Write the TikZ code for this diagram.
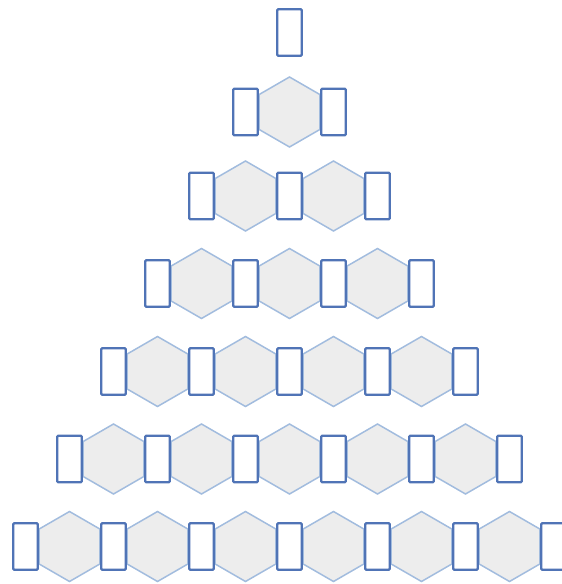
\documentclass[tikz,border=0pt]{standalone}
\usepackage{xcolor}
\usepackage{tikz}
\usetikzlibrary{shapes.geometric}
\definecolor{slotBlue}{RGB}{80,116,182}
\definecolor{hexEdge}{RGB}{162,188,222}
\definecolor{hexFill}{RGB}{237,237,237}

\begin{document}
\begin{tikzpicture}[x=1pt,y=-1pt,
    slotbox/.style={draw=slotBlue, fill=white, line width=2.4pt, rounded corners=1pt,
        minimum width=24.5pt, minimum height=46.5pt, inner sep=0pt},
    hexcell/.style={regular polygon, regular polygon sides=6, shape border rotate=30,
        draw=hexEdge, fill=hexFill, line width=1.5pt, minimum size=70pt, inner sep=0pt}]
    % frame of the picture
    \useasboundingbox (0,0) rectangle (562,584);

    % centre line and spacing
    \pgfmathsetmacro{\cx}{289.5}
    \pgfmathsetmacro{\dx}{88}

    % rows: index / centre height
    \foreach \row/\ry in {0/32.5,1/112,2/196,3/283.5,4/371.5,5/459,6/546.5} {
        % hexagons between the slots
        \ifnum\row>0
            \foreach \k in {1,...,\row} {
                \node[hexcell] (h-\row-\k) at ({\cx+(\k-0.5-\row/2)*\dx},\ry) {};
            }
        \fi
        % slots
        \foreach \k in {0,...,\row} {
            \node[slotbox] (r-\row-\k) at ({\cx+(\k-\row/2)*\dx},\ry) {};
        }
    }
\end{tikzpicture}
\end{document}
